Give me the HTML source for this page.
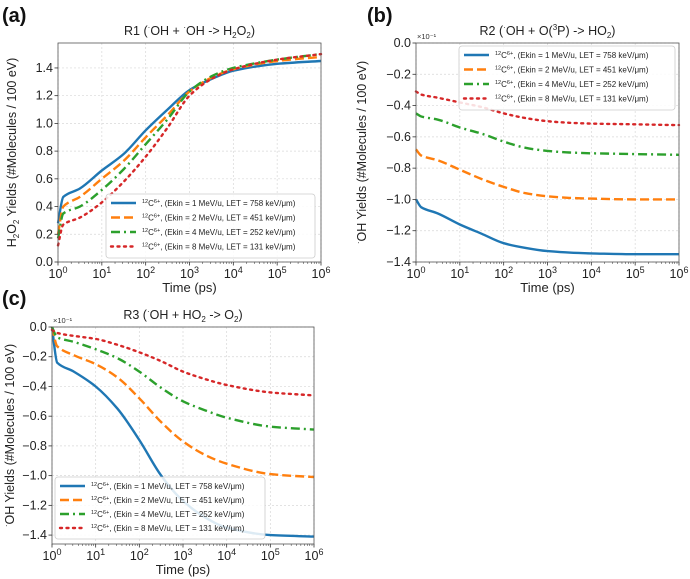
<!DOCTYPE html>
<html><head><meta charset="utf-8"><style>
body{margin:0;background:#fff;width:690px;height:579px;overflow:hidden;font-family:"Liberation Sans",sans-serif}
svg{position:absolute;left:0;top:0}
</style></head><body>
<svg id="fig" width="690" height="579" font-family="Liberation Sans, DejaVu Sans, sans-serif"></svg>
<script>
const logTimes=[0,0.12,0.5,1,1.5,2,2.5,3,3.5,4,5,6];
const seriesLabels=["Ekin = 1 MeV/u, LET = 758 keV/\u03bcm","Ekin = 2 MeV/u, LET = 451 keV/\u03bcm","Ekin = 4 MeV/u, LET = 252 keV/\u03bcm","Ekin = 8 MeV/u, LET = 131 keV/\u03bcm"];
const r1Blue=[0.28,0.47,0.53,0.66,0.78,0.95,1.1,1.24,1.32,1.38,1.43,1.45];
const r1Orange=[0.2,0.40,0.47,0.60,0.73,0.90,1.06,1.23,1.33,1.39,1.45,1.48];
const r1Green=[0.17,0.35,0.40,0.52,0.67,0.85,1.03,1.23,1.34,1.40,1.46,1.50];
const r1Red=[0.12,0.27,0.32,0.43,0.58,0.76,0.97,1.20,1.32,1.39,1.46,1.50];
const r2Blue=[-1.0,-1.05,-1.09,-1.16,-1.22,-1.28,-1.31,-1.33,-1.34,-1.345,-1.35,-1.35];
const r2Orange=[-0.68,-0.72,-0.75,-0.81,-0.87,-0.92,-0.96,-0.98,-0.99,-0.995,-1.0,-1.0];
const r2Green=[-0.45,-0.47,-0.49,-0.54,-0.58,-0.63,-0.67,-0.69,-0.70,-0.705,-0.71,-0.715];
const r2Red=[-0.31,-0.33,-0.35,-0.38,-0.41,-0.45,-0.48,-0.50,-0.51,-0.515,-0.52,-0.525];
const r3Blue=[0,-0.24,-0.30,-0.40,-0.55,-0.76,-1.0,-1.17,-1.28,-1.35,-1.40,-1.41];
const r3Orange=[0,-0.13,-0.19,-0.25,-0.34,-0.48,-0.64,-0.77,-0.86,-0.92,-0.99,-1.01];
const r3Green=[0,-0.07,-0.10,-0.15,-0.21,-0.30,-0.41,-0.50,-0.56,-0.61,-0.67,-0.69];
const r3Red=[-0.02,-0.04,-0.06,-0.08,-0.12,-0.17,-0.23,-0.30,-0.35,-0.39,-0.44,-0.46];
const r1Ticks=[0,0.2,0.4,0.6,0.8,1.0,1.2,1.4];
const negTicks=[0,-0.2,-0.4,-0.6,-0.8,-1.0,-1.2,-1.4];
const xTickExps=[0,1,2,3,4,5,6];

const NS="http://www.w3.org/2000/svg";
const fig=document.getElementById('fig');
function mk(tag,attrs,parent,text){const e=document.createElementNS(NS,tag);for(const k in attrs)e.setAttribute(k,attrs[k]);if(text!==undefined)e.textContent=text;(parent||fig).appendChild(e);return e;}
const colors=["#1f77b4","#ff7f0e","#2ca02c","#d62728"];
const dashes=["none","9,4","9,4,2,4","2,4.5"];
const caps=["butt","butt","butt","round"];

// monotone cubic path
function monoPath(xs,ys){
  const n=xs.length,d=[],m=[];
  for(let i=0;i<n-1;i++)d.push((ys[i+1]-ys[i])/(xs[i+1]-xs[i]));
  m[0]=d[0];m[n-1]=d[n-2];
  for(let i=1;i<n-1;i++)m[i]=(d[i-1]*d[i]<=0)?0:2/(1/d[i-1]+1/d[i]);
  let p='M'+xs[0].toFixed(1)+','+ys[0].toFixed(1);
  for(let i=0;i<n-1;i++){const h=(xs[i+1]-xs[i])/3;
    p+='C'+(xs[i]+h).toFixed(1)+','+(ys[i]+m[i]*h).toFixed(1)+' '+(xs[i+1]-h).toFixed(1)+','+(ys[i+1]-m[i+1]*h).toFixed(1)+' '+xs[i+1].toFixed(1)+','+ys[i+1].toFixed(1);}
  return p;
}

function panel(o){
  const g=mk('g',{});
  
  
  const X=v=>o.x0+(v-0)/6*(o.x1-o.x0);
  const Y=v=>o.y1-(v-o.ymin)/(o.ymax-o.ymin)*(o.y1-o.y0);
  xTickExps.forEach(e=>{mk('line',{x1:X(e),x2:X(e),y1:o.y0,y2:o.y1,stroke:'#d8d8d8','stroke-width':0.7,'stroke-dasharray':'2,2'},g);});
  o.ticks.forEach(t=>{mk('line',{x1:o.x0,x2:o.x1,y1:Y(t),y2:Y(t),stroke:'#d8d8d8','stroke-width':0.7,'stroke-dasharray':'2,2'},g);});
  o.data.forEach((d,i)=>{
    const p=mk('path',{d:monoPath(logTimes.map(X),d.map(Y)),fill:'none',stroke:colors[i],'stroke-width':2.4,'stroke-dasharray':dashes[i],'stroke-linecap':caps[i],'stroke-linejoin':'round'},g);
    
    
  });
  mk('rect',{x:o.x0,y:o.y0,width:o.x1-o.x0,height:o.y1-o.y0,fill:'none',stroke:'#555','stroke-width':0.8},g);
  xTickExps.forEach(e=>{
    mk('line',{x1:X(e),x2:X(e),y1:o.y1,y2:o.y1+3.5,stroke:'#333','stroke-width':0.8},g);
    for(let m=2;m<10&&e<6;m++){const xm=X(e+Math.log10(m));mk('line',{x1:xm,x2:xm,y1:o.y1,y2:o.y1+2,stroke:'#333','stroke-width':0.5},g);}
    const t=mk('text',{x:X(e),y:o.y1+16,'font-size':12.5,'text-anchor':'middle',fill:'#222'},g,'10');
    mk('tspan',{dy:-5,'font-size':9},t,String(e));
  });
  o.ticks.forEach(t=>{
    mk('line',{x1:o.x0-3.5,x2:o.x0,y1:Y(t),y2:Y(t),stroke:'#333','stroke-width':0.8},g);
    mk('text',{x:o.x0-5,y:Y(t)+4,'font-size':12.5,'text-anchor':'end',fill:'#222'},g,(t<0?'\u2212':'')+Math.abs(t).toFixed(1));
  });
  if(o.sci) mk('text',{x:o.x0+1,y:o.y0-4,'font-size':7.5,fill:'#333'},g,'\u00d710\u207b\u00b9');
  const xl=mk('text',{x:(o.x0+o.x1)/2,y:o.y1+30,'font-size':13,'text-anchor':'middle',fill:'#222'},g,'Time  (ps)');
  
  const yl=mk('text',{x:0,y:0,'font-size':12.5,'text-anchor':'middle',fill:'#222',transform:`translate(${o.ylx},${(o.y0+o.y1)/2}) rotate(-90)`},g);
  yl.innerHTML=o.ylab;
  
  const ti=mk('text',{x:(o.x0+o.x1)/2,y:o.y0-8,'font-size':12.5,'text-anchor':'middle',fill:'#222'},g);
  ti.innerHTML=o.title;
  
  const L=o.leg;
  const lg=mk('g',{},g);
  
  mk('rect',{x:L.x,y:L.y,width:L.w,height:L.h,rx:3,fill:'#fff','fill-opacity':0.85,stroke:'#ccc','stroke-width':0.8},lg);
  seriesLabels.forEach((s,i)=>{
    const yy=L.y+9+i*(L.h-6)/4;
    const ln=mk('line',{x1:L.x+5,x2:L.x+30,y1:yy,y2:yy,stroke:colors[i],'stroke-width':2.4,'stroke-dasharray':dashes[i],'stroke-linecap':caps[i]},lg);
    
    const t=mk('text',{x:L.x+36,y:yy+3,'font-size':8,fill:'#222'},lg);
    t.innerHTML='<tspan dy="-3" font-size="5.5">12</tspan><tspan dy="3">C</tspan><tspan dy="-3" font-size="5.5">6+</tspan><tspan dy="3">, ('+s+')</tspan>';
    
  });
}
panel({name:'panel-a-r1',x0:58,x1:321,y0:43,y1:262,ymin:0,ymax:1.58,ticks:r1Ticks,data:[r1Blue,r1Orange,r1Green,r1Red],
 ylx:16,ylab:'H<tspan font-size="8" dy="3">2</tspan><tspan dy="-3">O</tspan><tspan font-size="8" dy="3">2</tspan><tspan dy="-3"> Yields (#Molecules / 100 eV)</tspan>',
 title:'R1 (<tspan font-size="8" dy="-5">·</tspan><tspan dy="5">OH + </tspan><tspan font-size="8" dy="-5">·</tspan><tspan dy="5">OH -&gt; H</tspan><tspan font-size="8" dy="3">2</tspan><tspan dy="-3">O</tspan><tspan font-size="8" dy="3">2</tspan><tspan dy="-3">)</tspan>',
 leg:{x:106,y:194,w:209,h:64}});
panel({name:'panel-b-r2',x0:416,x1:679,y0:43,y1:262,ymin:-1.4,ymax:0,ticks:negTicks,sci:true,data:[r2Blue,r2Orange,r2Green,r2Red],
 ylx:366,ylab:'<tspan font-size="8" dy="-5">·</tspan><tspan dy="5">OH Yields (#Molecules / 100 eV)</tspan>',
 title:'R2 (<tspan font-size="8" dy="-5">·</tspan><tspan dy="5">OH + O(</tspan><tspan font-size="8" dy="-5">3</tspan><tspan dy="5">P) -&gt; HO</tspan><tspan font-size="8" dy="3">2</tspan><tspan dy="-3">)</tspan>',
 leg:{x:459,y:46,w:216,h:64}});
panel({name:'panel-c-r3',x0:52,x1:314,y0:327,y1:544,ymin:-1.46,ymax:0,ticks:negTicks,sci:true,data:[r3Blue,r3Orange,r3Green,r3Red],
 ylx:14,ylab:'<tspan font-size="8" dy="-5">·</tspan><tspan dy="5">OH Yields (#Molecules / 100 eV)</tspan>',
 title:'R3 (<tspan font-size="8" dy="-5">·</tspan><tspan dy="5">OH + HO</tspan><tspan font-size="8" dy="3">2</tspan><tspan dy="-3"> -&gt; O</tspan><tspan font-size="8" dy="3">2</tspan><tspan dy="-3">)</tspan>',
 leg:{x:55,y:477,w:210,h:62}});
[['(a)',2,22],['(b)',367,22],['(c)',2,305]].forEach(([s,x,y])=>{
  const t=mk('text',{x:x,y:y,'font-size':20,'font-weight':'bold',fill:'#111'},fig,s);
  
});
</script>
</body></html>
